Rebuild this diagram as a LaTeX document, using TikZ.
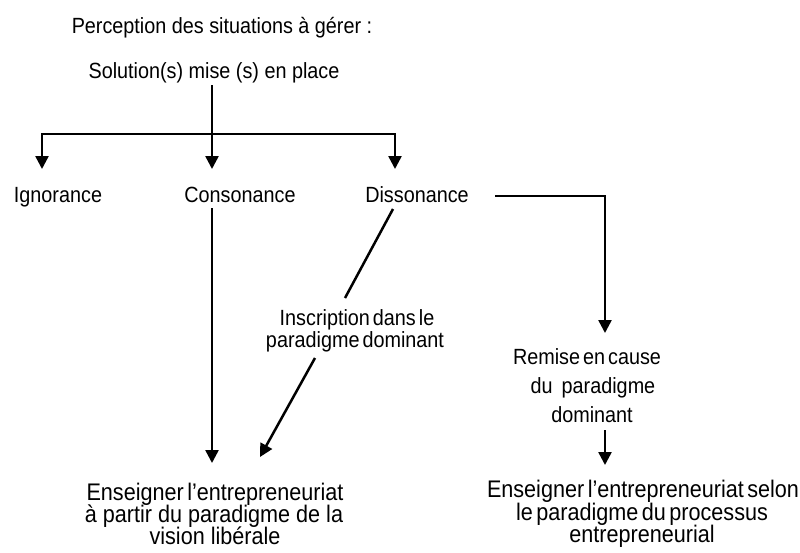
\documentclass[tikz,border=0pt]{standalone}
\usepackage{fontspec}
\setmainfont{Liberation Sans}
\newfontfamily\lblfont[FakeStretch=0.9]{Liberation Sans}
\newcommand\fnormal{\lblfont\fontsize{22}{24}\selectfont}
\newcommand\ftight{\lblfont\fontsize{22}{24}\selectfont\spaceskip 3pt\relax}
\newcommand\fbig{\lblfont\fontsize{24}{26}\selectfont\spaceskip 3.5pt\relax}
\newcommand\fbignormal{\lblfont\fontsize{24}{26}\selectfont}
\usetikzlibrary{arrows.meta}
\begin{document}
\begin{tikzpicture}[x=1pt,y=-1pt,
  lbl/.style={font=\fnormal, inner sep=0pt, anchor=base},
  tight/.style={lbl, font=\ftight},
  big/.style={lbl, font=\fbig},
  bign/.style={lbl, font=\fbignormal},
  ln/.style={line width=2.5pt},
  arr/.style={ln, -{Triangle[width=13pt,length=13pt]}}]
\useasboundingbox (0,0) rectangle (800,552);
% texts
\node[lbl] (perc) at (222,33) {Perception des situations à gérer :};
\node[lbl] (sol) at (214,78) {Solution(s) mise (s) en place};
\node[lbl] (ign) at (58,202) {Ignorance};
\node[lbl] (cons) at (240,202) {Consonance};
\node[lbl] (diss) at (417,202) {Dissonance};
\node[tight] (insc1) at (357,325) {Inscription dans le};
\node[tight] (insc2) at (355,347) {paradigme dominant};
\node[tight] (rem1) at (587,364) {Remise en cause};
\node[lbl] (rem2) at (593,393) {du\hspace{9pt}paradigme};
\node[lbl] (rem3) at (592,422) {dominant};
\node[big] (ensl1) at (215,500) {Enseigner l’entrepreneuriat};
\node[bign] (ensl2) at (214,522) {à partir du paradigme de la};
\node[bign] (ensl3) at (215,544) {vision libérale};
\node[big] (ensr1) at (643,497) {Enseigner l’entrepreneuriat selon};
\node[big] (ensr2) at (642,520) {le paradigme du processus};
\node[big] (ensr3) at (642,542) {entrepreneurial};
% connector points
\coordinate (s0) at (212,85);
\coordinate (j) at (212,134);
\coordinate (jl) at (42,134);
\coordinate (jr) at (395,134);
\coordinate (tl) at (42,169);
\coordinate (tc) at (212,169);
\coordinate (tr) at (395,169);
\coordinate (c1) at (212,208);
\coordinate (c2) at (212,463);
\coordinate (d1) at (393,209);
\coordinate (d2) at (345,298);
\coordinate (d3) at (315,358);
\coordinate (d4) at (260,457);
\coordinate (h1) at (495,196);
\coordinate (h2) at (605,196);
\coordinate (h3) at (605,333);
\coordinate (r1) at (605,430);
\coordinate (r2) at (605,465);
% connectors
\draw[ln] (s0) -- (j);
\draw[ln, line cap=rect] (jl) -- (jr);
\draw[arr] (jl) -- (tl);
\draw[arr] (j) -- (tc);
\draw[arr] (jr) -- (tr);
\draw[arr] (c1) -- (c2);
\draw[ln] (d1) -- (d2);
\draw[arr] (d3) -- (d4);
\draw[arr] (h1) -- (h2) -- (h3);
\draw[arr] (r1) -- (r2);
\end{tikzpicture}
\end{document}
